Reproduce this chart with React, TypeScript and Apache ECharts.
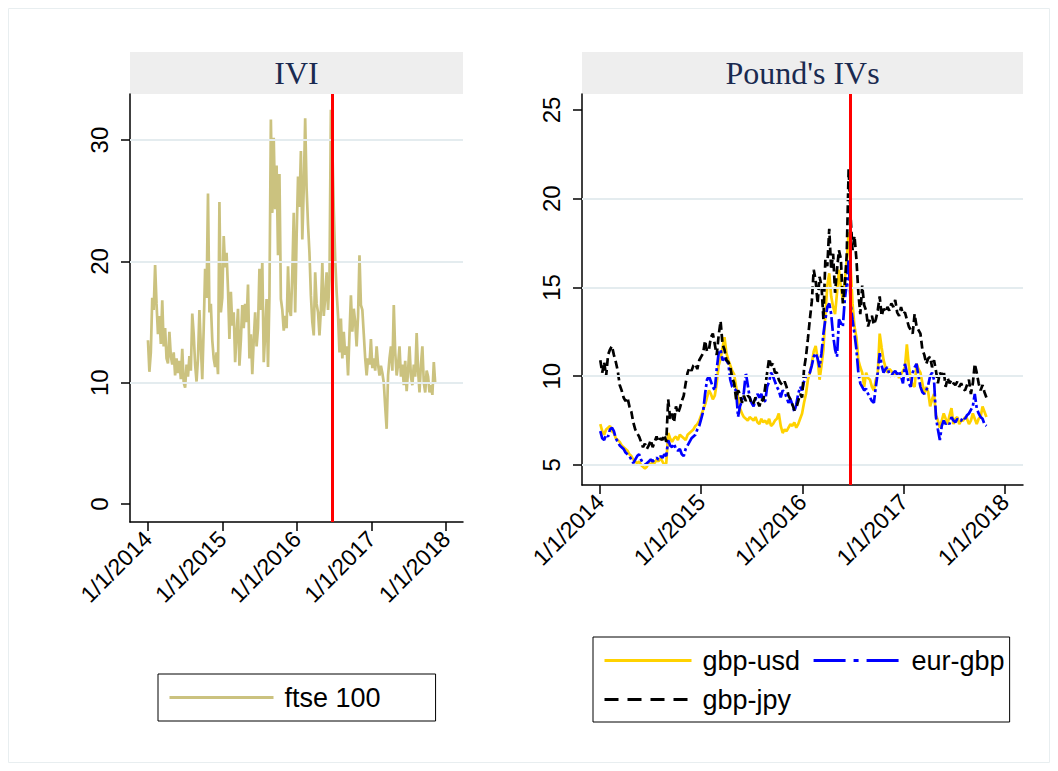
import React, { useEffect, useRef } from 'react';
import * as echarts from 'echarts';

// ---- data (weekly readings, first week starting 2 Jan 2014) ----
const firstWeek = '2014-01-02';
const tickYears = [2014, 2015, 2016, 2017, 2018];
const eventDate = '2016-06-23';

const leftYTicks = [0, 10, 20, 30];
const leftGridLines = [10, 20, 30];
const rightYTicks = [5, 10, 15, 20, 25];
const rightGridLines = [5, 10, 15, 20];

const ftse100 = [
  13.5, 10.9, 12.5, 17.0, 16.0, 19.7, 16.5, 14.0, 15.5, 13.2,
  16.8, 13.0, 14.5, 12.0, 11.6, 14.2, 12.2, 11.5, 12.5, 10.6,
  12.0, 10.8, 11.8, 10.3, 12.8, 10.0, 9.6, 11.5, 10.5, 12.2,
  11.0, 15.7, 14.0, 11.5, 10.1, 12.0, 16.0, 13.0, 10.3, 14.5,
  19.4, 17.0, 25.6, 15.8, 16.5, 13.5, 12.0, 11.3, 12.5, 10.7,
  24.9, 15.8, 17.0, 22.1, 19.5, 20.7, 17.7, 13.6, 17.5, 14.7,
  15.8, 11.7, 14.0, 16.1, 11.4, 13.5, 16.4, 14.5, 16.5, 15.0,
  18.1, 12.0, 14.0, 10.7, 13.5, 15.8, 13.0, 14.5, 19.4, 16.0,
  20.0, 11.7, 14.0, 16.9, 11.3, 17.2, 31.7, 24.0, 30.2, 24.3,
  27.9, 20.5, 27.2, 16.9, 16.0, 14.3, 15.5, 14.5, 19.6, 16.0,
  15.5, 19.0, 24.0, 15.8, 22.0, 27.0, 24.5, 29.1, 21.8, 26.0,
  31.8, 26.0, 23.0, 20.7, 17.2, 15.0, 13.9, 19.1, 16.5, 15.8,
  13.9, 16.0, 19.9, 15.5, 17.0, 19.1, 16.0, 18.5, 32.5, 29.5,
  24.3, 20.2, 17.5, 15.5, 12.5, 15.3, 12.0, 14.2, 12.3, 13.0,
  10.6, 14.0, 17.2, 14.2, 16.1, 15.0, 13.0, 15.5, 20.5, 16.4,
  16.0, 14.0, 12.0, 10.6, 12.0, 11.5, 13.6, 11.2, 12.0, 11.0,
  13.0, 11.5, 10.6, 11.4, 10.8, 10.0, 8.0, 6.2, 10.6, 12.0,
  13.0, 11.0, 16.4, 12.5, 10.6, 11.5, 13.0, 10.5, 11.5, 9.8,
  11.8, 9.3, 11.0, 13.0, 10.5, 9.8, 11.5, 10.5, 14.1, 11.0,
  9.2, 11.5, 13.0, 10.0, 9.2, 11.0, 10.5, 9.2, 9.8, 9.0,
  11.7, 9.9,
];

const gbpUsd = [
  7.3, 6.9, 6.7, 7.0, 7.1, 7.2, 6.9, 6.8, 6.5, 6.4,
  6.3, 6.1, 6.0, 5.9, 5.8, 5.6, 5.5, 5.3, 5.2, 5.1,
  5.2, 5.0, 4.9, 4.8, 4.9, 5.1, 5.0, 5.2, 5.1, 5.3,
  5.2, 5.4, 5.2, 5.0, 5.1, 6.8, 6.5, 6.3, 6.5, 6.6,
  6.4, 6.7, 6.6, 6.5, 6.4, 6.7, 6.8, 6.9, 7.0, 7.2,
  7.3, 7.5, 7.8, 8.1, 8.4, 8.8, 9.2, 9.0, 8.7, 8.9,
  9.6, 10.6, 11.0, 11.6, 12.2, 11.3, 10.9, 10.6, 10.3, 10.1,
  9.4, 8.8, 8.2, 7.9, 7.7, 7.6, 7.5, 7.7, 7.6, 7.5,
  7.7, 7.4, 7.3, 7.6, 7.4, 7.5, 7.3, 7.6, 7.2, 7.3,
  7.5, 7.6, 7.9, 7.2, 6.8, 7.0, 6.9, 7.1, 7.3, 7.2,
  7.4, 7.1, 7.3, 7.6, 7.9, 8.5, 9.0, 9.8, 10.2, 10.7,
  11.4, 11.7, 11.0, 9.8, 10.6, 11.5, 13.5, 15.1, 15.8, 14.5,
  13.9, 13.5, 14.7, 16.0, 15.0, 14.3, 15.4, 16.5, 18.1, 16.2,
  14.1, 12.8, 12.2, 10.9, 10.5, 10.2, 9.4, 10.2, 9.9, 9.8,
  9.4, 9.2, 9.8, 10.2, 12.4, 11.6, 10.9, 10.5, 10.2, 10.4,
  10.3, 10.1, 10.0, 10.2, 9.9, 10.1, 10.3, 10.5, 11.8, 10.6,
  9.8, 9.5, 9.4, 10.7, 10.4, 10.2, 9.6, 9.0, 9.4, 9.1,
  8.3, 8.7, 9.0, 7.8, 7.5, 7.1, 7.5, 7.9, 7.6, 7.3,
  7.8, 8.2, 7.3, 7.6, 7.7, 7.3, 7.5, 7.5, 7.7, 7.6,
  7.3, 7.5, 7.9, 7.6, 7.3, 7.6, 7.7, 8.3, 8.0, 7.7,
];

const eurGbp = [
  6.9, 6.5, 6.4, 6.7, 6.6, 7.0, 7.1, 6.9, 6.5, 6.3,
  6.1, 6.0, 5.9, 5.7, 5.6, 5.5, 5.3, 5.1, 5.3, 5.5,
  5.6, 5.3, 5.1, 5.0, 5.1, 5.2, 5.3, 5.2, 5.3, 5.4,
  5.3, 5.5, 5.4, 5.6, 5.5, 6.4, 6.1, 6.0, 6.2, 5.9,
  5.8, 5.9, 5.6, 5.5, 5.9, 6.1, 6.3, 6.5, 6.6, 6.7,
  7.0, 7.2, 7.6, 8.0, 9.0, 9.8, 10.0, 9.7, 9.4, 9.2,
  10.4, 11.3, 11.5, 10.9, 11.0, 10.9, 10.7, 9.8, 9.4, 9.3,
  9.2, 7.7, 8.3, 8.6, 9.1, 10.2, 9.5, 8.8, 8.5, 8.3,
  8.7, 9.0, 8.8, 9.0, 8.6, 8.6, 9.4, 9.7, 10.2, 10.0,
  9.7, 9.4, 9.2, 8.8, 9.2, 9.1, 8.8, 8.5, 8.7, 8.4,
  8.0, 8.4, 9.0, 9.4, 9.2, 9.7, 10.0, 10.1, 10.2, 10.6,
  11.1, 11.3, 11.0, 10.5, 11.3, 12.4, 13.2, 13.9, 14.1, 13.5,
  12.3, 11.5, 11.1, 13.2, 13.0, 12.8, 14.3, 15.2, 16.6, 14.1,
  13.2, 12.4, 11.5, 10.2, 9.6, 9.4, 9.2, 9.3, 9.0, 8.8,
  8.6, 8.5, 9.4, 10.2, 11.3, 10.6, 10.2, 10.4, 10.5, 10.1,
  10.0, 10.2, 10.3, 10.1, 10.3, 10.0, 9.6, 10.7, 10.2, 9.6,
  9.4, 10.2, 10.5, 10.7, 10.0, 9.4, 9.1, 9.0, 9.2, 9.5,
  10.0, 10.2, 9.8, 7.7, 7.0, 6.4, 7.2, 7.5, 7.3, 7.4,
  7.3, 7.7, 7.5, 7.4, 7.6, 7.5, 7.5, 7.7, 7.6, 7.8,
  7.9, 8.1, 8.3, 9.0, 8.2, 7.9, 7.7, 7.6, 7.3, 7.2,
];

const gbpJpy = [
  10.9, 10.2, 10.8, 10.0, 11.2, 11.5, 11.7, 11.2, 10.8, 10.3,
  9.5, 9.2, 8.8, 8.6, 8.8, 8.3, 8.0, 7.4, 7.0, 6.8,
  6.6, 6.3, 6.0, 6.2, 5.9, 6.1, 6.4, 6.0, 6.3, 6.6,
  6.3, 6.5, 6.4, 6.7, 6.3, 8.7, 7.6, 7.9, 7.4, 8.3,
  7.9, 8.2, 8.6, 8.9, 9.6, 10.2, 10.5, 10.3, 10.6, 10.7,
  10.4, 10.9, 11.1, 11.3, 12.0, 11.4, 11.5, 12.2, 12.4, 11.8,
  11.2, 12.3, 13.1, 11.8, 11.5, 10.9, 10.8, 10.5, 9.9, 9.6,
  8.7, 9.2, 9.0, 8.5, 8.9, 8.6, 8.9, 8.8, 8.4, 8.5,
  8.8, 8.6, 8.3, 8.7, 8.6, 9.4, 10.2, 11.0, 10.6, 10.7,
  10.2, 10.2, 9.8, 9.6, 9.5, 9.7, 9.4, 8.9, 8.7, 8.4,
  8.1, 8.2, 8.6, 9.0, 8.8, 10.4, 11.1, 12.1, 13.2, 14.2,
  16.0, 15.4, 14.1, 15.6, 15.1, 13.2, 16.6, 16.2, 18.3, 16.0,
  16.9, 14.7, 16.0, 17.1, 16.6, 14.1, 15.1, 16.8, 21.7, 19.0,
  17.1, 17.9, 16.6, 14.7, 13.5, 15.1, 14.0, 13.7, 12.8, 13.2,
  13.4, 12.9, 13.2, 13.7, 14.5, 13.4, 13.8, 13.6, 13.9, 13.7,
  14.1, 13.9, 14.3, 13.6, 13.4, 13.9, 13.5, 13.6, 13.2, 12.8,
  12.6, 12.4, 13.5, 12.8, 12.6, 12.4, 11.5, 11.2, 10.7, 11.0,
  11.1, 10.5, 10.9, 10.3, 9.6, 10.2, 10.0, 10.3, 9.4, 9.9,
  9.6, 9.8, 9.6, 9.5, 9.7, 9.4, 9.6, 9.3, 9.2, 9.5,
  9.8, 9.0, 9.6, 10.7, 10.2, 9.6, 9.2, 9.5, 9.1, 8.8,
];

// ---- helpers ----
const DAY = 86400000;
const t0 = Date.parse(firstWeek + 'T00:00:00Z');
const toPairs = (vals: number[]) => vals.map((v, i) => [t0 + i * 7 * DAY, v]);
const yearStart = (y: number) => Date.UTC(y, 0, 1);
const eventTs = Date.parse(eventDate + 'T00:00:00Z');

const SANS = '"Liberation Sans", Arial, Helvetica, sans-serif';
const SERIF = '"Liberation Serif", "Times New Roman", serif';

const W = 1042;
const H = 755;
const X_TICK_FONT = 23;
const Y_TICK_FONT = 24;
const LEGEND_FONT = 27;

function xAxisFor(gridIndex: number, padLeftDays: number, padRightDays: number) {
  const ticks = tickYears.map(yearStart);
  return {
    gridIndex,
    type: 'value',
    min: yearStart(2014) - padLeftDays * DAY,
    max: yearStart(2018) + padRightDays * DAY,
    axisLine: { show: true, onZero: false, lineStyle: { color: '#000', width: 1.5 } },
    axisTick: { show: true, customValues: ticks, length: 9, lineStyle: { color: '#000', width: 1.5 } },
    axisLabel: {
      customValues: ticks,
      rotate: 45,
      margin: 13,
      fontFamily: SANS,
      fontSize: X_TICK_FONT,
      color: '#000',
      formatter: (v: number) => '1/1/' + new Date(v).getUTCFullYear(),
    },
    splitLine: { show: false },
  };
}

function yAxisFor(gridIndex: number, min: number, max: number, ticks: number[]) {
  return {
    gridIndex,
    type: 'value',
    min,
    max,
    axisLine: { show: true, onZero: false, lineStyle: { color: '#000', width: 1.5 } },
    axisTick: { show: true, customValues: ticks, length: 9, lineStyle: { color: '#000', width: 1.5 } },
    axisLabel: {
      customValues: ticks,
      rotate: 90,
      margin: 19,
      fontFamily: SANS,
      fontSize: Y_TICK_FONT,
      color: '#000',
    },
    splitLine: { show: false },
  };
}

function guideSeries(xi: number, grid: number[]) {
  return {
    type: 'line',
    xAxisIndex: xi,
    yAxisIndex: xi,
    data: [],
    silent: true,
    z: 1,
    markLine: {
      silent: true,
      symbol: ['none', 'none'],
      label: { show: false },
      animation: false,
      data: [
        ...grid.map((g) => ({ yAxis: g, lineStyle: { color: '#e4ecef', width: 1.8, type: 'solid' } })),
        { xAxis: eventTs, lineStyle: { color: '#ff0000', width: 3, type: 'solid' } },
      ],
    },
  };
}

const hiddenSymbol = { color: 'rgba(0,0,0,0)', opacity: 0, borderWidth: 0 };

const App: React.FC = () => {
  const ref = useRef<HTMLDivElement>(null);

  useEffect(() => {
    if (!ref.current) return;
    const chart = echarts.init(ref.current, undefined, { renderer: 'svg' });

    const lineBase = { type: 'line', showSymbol: false, symbol: 'none', z: 3, emphasis: { disabled: true } };
    const legendText = { fontFamily: SANS, fontSize: LEGEND_FONT, color: '#000' };

    const option: any = {
      animation: false,
      backgroundColor: '#ffffff',
      grid: [
        { left: 122, top: 86, width: 333, height: 428 },
        { left: 574, top: 86, width: 441, height: 391 },
      ],
      xAxis: [xAxisFor(0, 87, 83), xAxisFor(1, 65, 65)],
      yAxis: [yAxisFor(0, -1.48, 33.8, leftYTicks), yAxisFor(1, 3.87, 25.9, rightYTicks)],
      legend: [
        {
          data: ['ftse 100'],
          left: 150,
          top: 666,
          orient: 'horizontal',
          itemWidth: 104,
          itemHeight: 14,
          padding: [10, 55, 10, 10],
          borderColor: '#000',
          borderWidth: 1,
          itemStyle: hiddenSymbol,
          lineStyle: { width: 3 },
          textStyle: { ...legendText, padding: [0, 0, 0, 6] },
        },
        {
          data: [
            { name: 'gbp-usd', textStyle: { ...legendText, padding: [0, 15, 0, 6] } },
            { name: 'eur-gbp', lineStyle: { type: [32, 8, 5, 8] }, textStyle: { ...legendText, padding: [0, 0, 0, 6] } },
            { name: 'gbp-jpy', lineStyle: { type: [14, 9] }, textStyle: { ...legendText, padding: [0, 0, 0, 6] } },
          ],
          left: 585,
          top: 629,
          width: 420,
          orient: 'horizontal',
          itemWidth: 87,
          itemHeight: 14,
          itemGap: 12,
          padding: [10, 5, 9, 10],
          borderColor: '#000',
          borderWidth: 1,
          itemStyle: hiddenSymbol,
          lineStyle: { width: 3 },
          textStyle: { ...legendText, padding: [0, 0, 0, 6] },
        },
      ],
      graphic: [
        { type: 'rect', shape: { x: 0.5, y: 0.5, width: W - 1, height: H - 1 }, style: { fill: 'none', stroke: '#e8eef0', lineWidth: 1 }, silent: true },
        { type: 'rect', shape: { x: 122, y: 44, width: 333, height: 42 }, style: { fill: '#eeeeee' }, silent: true },
        { type: 'rect', shape: { x: 574, y: 44, width: 441, height: 42 }, style: { fill: '#eeeeee' }, silent: true },
        { type: 'text', x: 122 + 333 / 2, y: 65, style: { text: 'IVI', fill: '#1a2a50', font: '32px ' + SERIF, textAlign: 'center', textVerticalAlign: 'middle' }, silent: true },
        { type: 'text', x: 574 + 441 / 2, y: 65, style: { text: "Pound's IVs", fill: '#1a2a50', font: '32px ' + SERIF, textAlign: 'center', textVerticalAlign: 'middle' }, silent: true },
      ],
      series: [
        guideSeries(0, leftGridLines),
        guideSeries(1, rightGridLines),
        {
          ...lineBase,
          name: 'ftse 100',
          xAxisIndex: 0,
          yAxisIndex: 0,
          data: toPairs(ftse100),
          lineStyle: { color: '#cbc27f', width: 2.7 },
          itemStyle: { color: '#cbc27f' },
        },
        {
          ...lineBase,
          name: 'gbp-usd',
          xAxisIndex: 1,
          yAxisIndex: 1,
          data: toPairs(gbpUsd),
          lineStyle: { color: '#ffd200', width: 2.7 },
          itemStyle: { color: '#ffd200' },
        },
        {
          ...lineBase,
          name: 'eur-gbp',
          xAxisIndex: 1,
          yAxisIndex: 1,
          data: toPairs(eurGbp),
          lineStyle: { color: '#0000ff', width: 2.7, type: [14, 3, 3, 3] },
          itemStyle: { color: '#0000ff' },
        },
        {
          ...lineBase,
          name: 'gbp-jpy',
          xAxisIndex: 1,
          yAxisIndex: 1,
          data: toPairs(gbpJpy),
          lineStyle: { color: '#000000', width: 2.7, type: [8, 4] },
          itemStyle: { color: '#000000' },
        },
      ],
    };

    chart.setOption(option);
    return () => chart.dispose();
  }, []);

  return <div ref={ref} style={{ width: W, height: H }} />;
};

export default App;
